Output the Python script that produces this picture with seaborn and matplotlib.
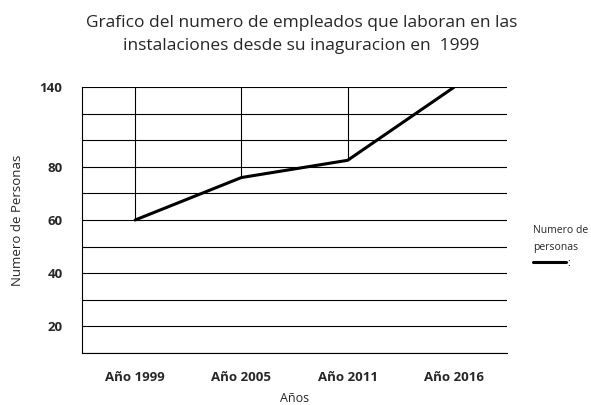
import numpy as np
import seaborn as sns
import matplotlib.pyplot as plt
import pandas as pd

sns.set_style("white")
plt.rcParams['font.family'] = ['Open Sans', 'DejaVu Sans']

# data
years = ["Año 1999", "Año 2005", "Año 2011", "Año 2016"]
personas = [60, 76, 85, 140]
tick_vals = [20, 40, 60, 80, 140]
grid_vals = [10, 20, 30, 40, 50, 60, 70, 80, 100, 120, 140]

df = pd.DataFrame({"anio": years, "personas": personas})


# the original axis is squeezed above 80 (each grid step is 20 instead of 10)
def fwd(v):
    v = np.asarray(v, dtype=float)
    return np.where(v <= 80, v, 80 + (v - 80) / 2)


def inv(u):
    u = np.asarray(u, dtype=float)
    return np.where(u <= 80, u, 80 + (u - 80) * 2)


fig = plt.figure(figsize=(5.91, 4.05), dpi=100)
ax = fig.add_axes([0.1387, 0.1291, 0.7192, 0.6553])
ax.set_yscale('function', functions=(fwd, inv))

sns.lineplot(data=df, x="anio", y="personas", color="black", linewidth=2.2,
             sort=False, ax=ax, label=":")

# drop lines from the top grid line down to each point
top = max(grid_vals)
xs = [i for i, v in enumerate(personas) if v < top]
ax.vlines(xs, [personas[i] for i in xs], top, color="black", linewidth=0.8)

ax.set_xlim(-0.5, len(years) - 0.5)
ax.set_ylim(10, 140)
ax.set_yticks(tick_vals)
ax.set_yticklabels([str(v) for v in tick_vals], fontweight="bold", fontsize=9.5)
ax.set_yticks(grid_vals, minor=True)
ax.grid(True, which="both", axis="y", color="black", linewidth=0.8)
ax.grid(False, axis="x")
ax.tick_params(axis="both", which="both", length=0)
ax.tick_params(axis="x", pad=13)
ax.tick_params(axis="y", pad=14)
for lab in ax.get_xticklabels():
    lab.set_fontweight("bold")
    lab.set_fontsize(9.5)

for s in ["top", "right"]:
    ax.spines[s].set_visible(False)
ax.spines["left"].set_color("black")
ax.spines["left"].set_linewidth(0.8)
ax.spines["bottom"].set_color("black")
ax.spines["bottom"].set_linewidth(0.8)

ax.set_xlabel("Años", fontsize=9, labelpad=6)
ax.set_ylabel("Numero de Personas", fontsize=9.5, labelpad=11)

fig.text(0.51, 0.962, "Grafico del numero de empleados que laboran en las\n"
         "instalaciones desde su inaguracion en  1999",
         ha="center", va="top", fontsize=12.5, linespacing=1.55)

leg = ax.legend(title="Numero de\npersonas", loc="center left",
                bbox_to_anchor=(0.893, 0.39), bbox_transform=fig.transFigure,
                frameon=False, fontsize=7.5, title_fontsize=7.5, alignment="left",
                handlelength=3.2, handletextpad=0.1, borderpad=0)
leg.get_title().set_linespacing(1.7)

fig.savefig("out.png", dpi=100)
